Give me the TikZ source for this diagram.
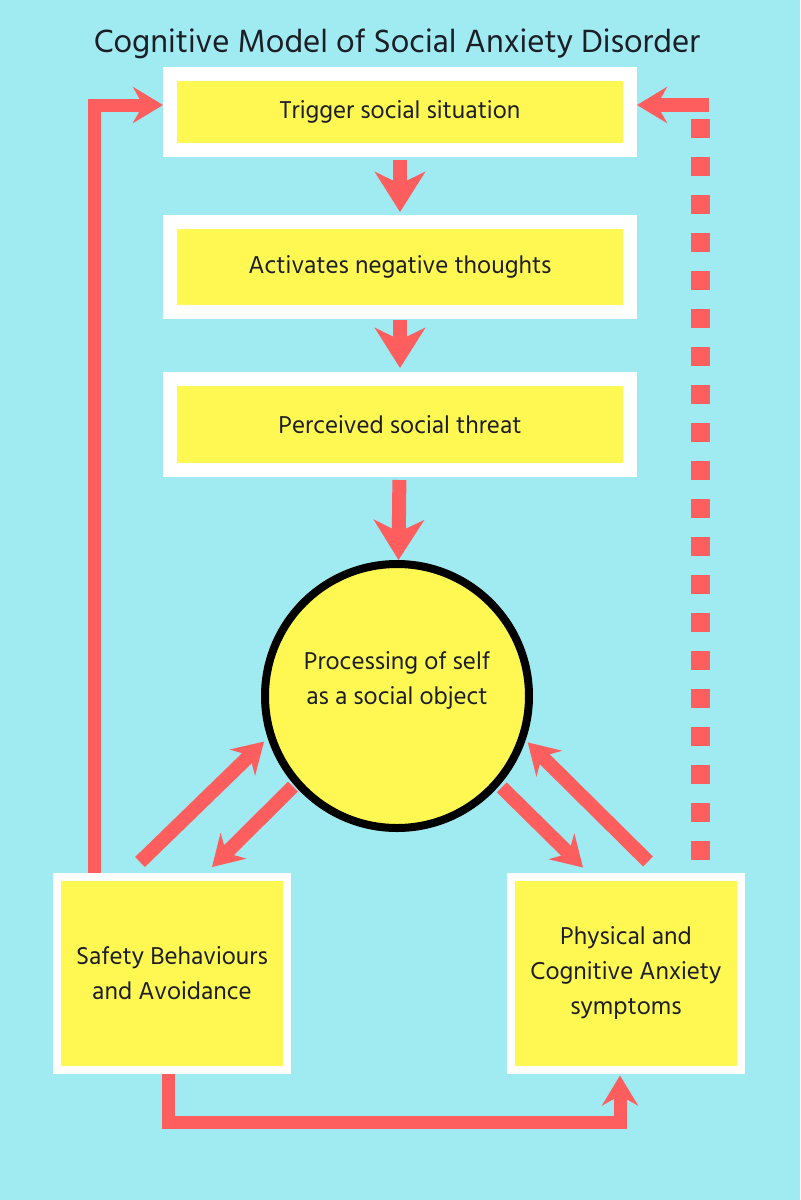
\documentclass[tikz,border=0pt]{standalone}
\usepackage{fontspec}
\setmainfont{Hind Madurai}
\usetikzlibrary{arrows.meta, calc}
\definecolor{skybg}{RGB}{160,234,241}
\definecolor{boxyellow}{RGB}{255,248,82}
\definecolor{arrowred}{RGB}{255,94,94}
\definecolor{inkdark}{RGB}{28,30,38}

\begin{document}
\begin{tikzpicture}[
    x=0.5pt, y=-0.5pt,
    every node/.style={font=\fontsize{12.5pt}{17.5pt}\selectfont, text=inkdark, align=center},
    stepbox/.style={draw=white, line width=7pt, fill=boxyellow, minimum width=230pt, inner sep=0pt},
    sidebox/.style={draw=white, line width=4pt, fill=boxyellow, minimum width=115pt, minimum height=96.5pt, inner sep=0pt},
    bigarrow/.style={-{Stealth[length=20pt, width=25pt, inset=6pt]}, line width=7pt, draw=arrowred},
    arrow/.style={-{Stealth[length=15pt, width=18pt, inset=5pt]}, line width=7pt, draw=arrowred},
    dashline/.style={line width=9.5pt, draw=arrowred, dash pattern=on 9.5pt off 9.5pt},
]

% ── Background ──
\fill[skybg] (0,0) rectangle (800,1200);
\useasboundingbox (0,0) rectangle (800,1200);

% ── Title ──
\node[font=\fontsize{16.5pt}{19pt}\selectfont] (title) at (397,44)
    {Cognitive Model of Social Anxiety Disorder};

% ── Chain of boxes ──
\node[stepbox, minimum height=38pt] (trigger) at (400,112) {Trigger social situation};
\node[stepbox, minimum height=45pt] (negthought) at (400,267) {Activates negative thoughts};
\node[stepbox, minimum height=45.5pt] (threat) at (400,424.5) {Perceived social threat};

% ── Central circle ──
\node[circle, draw=black, line width=4pt, fill=boxyellow, minimum size=132pt, inner sep=0pt]
    (selfobj) at (397,696) {};
\node (selftext) at (397,680) {Processing of self\\as a social object};

% ── Bottom boxes ──
\node[sidebox] (safety) at (172,973.5) {Safety Behaviours\\and Avoidance};
\node[sidebox] (symptoms) at (626,973) {Physical and\\Cognitive Anxiety\\symptoms};

% ── Down arrows ──
\draw[bigarrow, shorten <=1.5pt, shorten >=1.5pt] (trigger) -- (negthought);
\draw[bigarrow, shorten <=0.5pt, shorten >=2pt] (negthought) -- (threat);
\draw[bigarrow, shorten <=1.5pt, shorten >=0pt] (threat) -- (selfobj);

% ── Diagonal arrows ──
\draw[arrow, shorten >=2.5pt] ([xshift=-16pt, yshift=5.5pt]safety.north) -- (selfobj.198);
\draw[arrow, shorten <=1pt] (selfobj.221) -- ([xshift=20pt, yshift=3pt]safety.north);
\draw[arrow, shorten <=1.5pt] (selfobj.319) -- ([xshift=-21.5pt, yshift=2.5pt]symptoms.north);
\draw[arrow, shorten >=1.5pt] ([xshift=11pt, yshift=5.5pt]symptoms.north) -- (selfobj.341);

% ── Feedback loops ──
\draw[arrow, line width=6.5pt] ([xshift=-39pt]safety.north) |- ([yshift=3.5pt]trigger.west);

\coordinate (rtop) at (700,119);
\coordinate (rturn) at (709,105);
\draw[dashline] ([xshift=37pt, yshift=6.5pt]symptoms.north) -- (rtop);
\draw[arrow] (rturn) -- (trigger.east |- rturn);

\draw[arrow, line width=6.5pt, shorten >=1pt] ([xshift=-2pt]safety.south) -- ++(0,48)
    -| ([xshift=-3pt]symptoms.south);

\end{tikzpicture}
\end{document}
